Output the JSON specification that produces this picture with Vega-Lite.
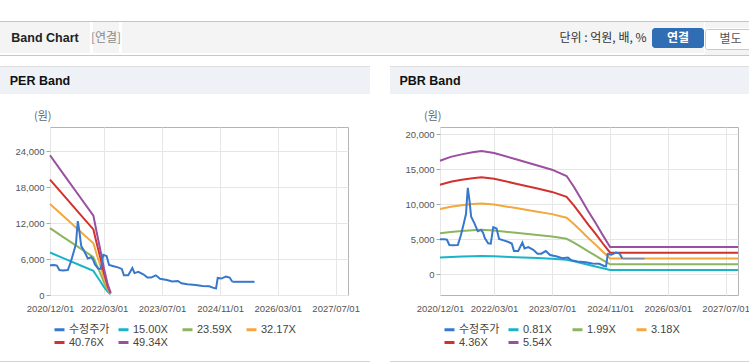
{
  "$schema": "https://vega.github.io/schema/vega-lite/v6.json",
  "background": "white",
  "padding": {"left": 0, "top": 21, "right": 0, "bottom": 0},
  "spacing": 10,
  "config": {
    "view": {"stroke": null},
    "point": {"size": 0, "opacity": 0},
    "text": {"font": "Liberation Sans, Noto Sans CJK KR"},
    "title": {"font": "Noto Sans CJK KR"}
  },
  "datasets": {
    "price": [
      {"d": "2020-12-01", "s": "수정주가", "v": 4950},
      {"d": "2021-01-05", "s": "수정주가", "v": 4980},
      {"d": "2021-01-28", "s": "수정주가", "v": 4900},
      {"d": "2021-02-18", "s": "수정주가", "v": 4150},
      {"d": "2021-03-20", "s": "수정주가", "v": 4100},
      {"d": "2021-04-30", "s": "수정주가", "v": 4150},
      {"d": "2021-05-25", "s": "수정주가", "v": 5500},
      {"d": "2021-06-20", "s": "수정주가", "v": 7300},
      {"d": "2021-07-08", "s": "수정주가", "v": 8600},
      {"d": "2021-07-16", "s": "수정주가", "v": 10700},
      {"d": "2021-07-23", "s": "수정주가", "v": 12300},
      {"d": "2021-08-06", "s": "수정주가", "v": 10500},
      {"d": "2021-08-20", "s": "수정주가", "v": 8200},
      {"d": "2021-09-15", "s": "수정주가", "v": 7300},
      {"d": "2021-10-15", "s": "수정주가", "v": 6100},
      {"d": "2021-11-12", "s": "수정주가", "v": 6300},
      {"d": "2021-11-28", "s": "수정주가", "v": 5900},
      {"d": "2021-12-14", "s": "수정주가", "v": 5100},
      {"d": "2022-01-10", "s": "수정주가", "v": 4400},
      {"d": "2022-02-01", "s": "수정주가", "v": 4350},
      {"d": "2022-02-22", "s": "수정주가", "v": 6700},
      {"d": "2022-03-22", "s": "수정주가", "v": 6500},
      {"d": "2022-04-12", "s": "수정주가", "v": 5000},
      {"d": "2022-05-20", "s": "수정주가", "v": 4800},
      {"d": "2022-06-25", "s": "수정주가", "v": 4600},
      {"d": "2022-07-28", "s": "수정주가", "v": 4350},
      {"d": "2022-08-15", "s": "수정주가", "v": 3300},
      {"d": "2022-09-20", "s": "수정주가", "v": 3300},
      {"d": "2022-10-25", "s": "수정주가", "v": 4500},
      {"d": "2022-11-12", "s": "수정주가", "v": 3650},
      {"d": "2022-12-14", "s": "수정주가", "v": 3850},
      {"d": "2023-01-25", "s": "수정주가", "v": 3450},
      {"d": "2023-03-01", "s": "수정주가", "v": 2900},
      {"d": "2023-04-01", "s": "수정주가", "v": 2900},
      {"d": "2023-05-10", "s": "수정주가", "v": 3280},
      {"d": "2023-06-15", "s": "수정주가", "v": 2700},
      {"d": "2023-08-12", "s": "수정주가", "v": 2500},
      {"d": "2023-09-25", "s": "수정주가", "v": 2250},
      {"d": "2023-11-12", "s": "수정주가", "v": 2340},
      {"d": "2023-12-12", "s": "수정주가", "v": 1960},
      {"d": "2024-01-31", "s": "수정주가", "v": 1790},
      {"d": "2024-04-10", "s": "수정주가", "v": 1670},
      {"d": "2024-06-05", "s": "수정주가", "v": 1510},
      {"d": "2024-08-01", "s": "수정주가", "v": 1450},
      {"d": "2024-09-12", "s": "수정주가", "v": 1150},
      {"d": "2024-09-28", "s": "수정주가", "v": 1100},
      {"d": "2024-10-12", "s": "수정주가", "v": 2850},
      {"d": "2024-11-10", "s": "수정주가", "v": 2740},
      {"d": "2024-12-20", "s": "수정주가", "v": 3070},
      {"d": "2025-01-20", "s": "수정주가", "v": 2910},
      {"d": "2025-02-12", "s": "수정주가", "v": 2200}
    ],
    "tail": [
      {"d": "2025-02-12", "s": "수정주가", "v": 2200},
      {"d": "2025-08-18", "s": "수정주가", "v": 2200}
    ],
    "per": [
      {"d": "2020-12-01", "s": "15.00X", "v": 7080},
      {"d": "2021-04-01", "s": "15.00X", "v": 6060},
      {"d": "2021-08-01", "s": "15.00X", "v": 5040},
      {"d": "2021-12-01", "s": "15.00X", "v": 4020},
      {"d": "2022-01-01", "s": "15.00X", "v": 3075},
      {"d": "2022-02-01", "s": "15.00X", "v": 2175},
      {"d": "2022-03-01", "s": "15.00X", "v": 1320},
      {"d": "2022-04-01", "s": "15.00X", "v": 525},
      {"d": "2022-04-25", "s": "15.00X", "v": 120},
      {"d": "2020-12-01", "s": "23.59X", "v": 11134},
      {"d": "2021-04-01", "s": "23.59X", "v": 9530},
      {"d": "2021-08-01", "s": "23.59X", "v": 7926},
      {"d": "2021-12-01", "s": "23.59X", "v": 6322},
      {"d": "2022-01-01", "s": "23.59X", "v": 4836},
      {"d": "2022-02-01", "s": "23.59X", "v": 3421},
      {"d": "2022-03-01", "s": "23.59X", "v": 2076},
      {"d": "2022-04-01", "s": "23.59X", "v": 826},
      {"d": "2022-04-25", "s": "23.59X", "v": 189},
      {"d": "2020-12-01", "s": "32.17X", "v": 15184},
      {"d": "2021-04-01", "s": "32.17X", "v": 12997},
      {"d": "2021-08-01", "s": "32.17X", "v": 10809},
      {"d": "2021-12-01", "s": "32.17X", "v": 8622},
      {"d": "2022-01-01", "s": "32.17X", "v": 6595},
      {"d": "2022-02-01", "s": "32.17X", "v": 4665},
      {"d": "2022-03-01", "s": "32.17X", "v": 2831},
      {"d": "2022-04-01", "s": "32.17X", "v": 1126},
      {"d": "2022-04-25", "s": "32.17X", "v": 257},
      {"d": "2020-12-01", "s": "40.76X", "v": 19239},
      {"d": "2021-04-01", "s": "40.76X", "v": 16467},
      {"d": "2021-08-01", "s": "40.76X", "v": 13695},
      {"d": "2021-12-01", "s": "40.76X", "v": 10924},
      {"d": "2022-01-01", "s": "40.76X", "v": 8356},
      {"d": "2022-02-01", "s": "40.76X", "v": 5910},
      {"d": "2022-03-01", "s": "40.76X", "v": 3587},
      {"d": "2022-04-01", "s": "40.76X", "v": 1427},
      {"d": "2022-04-25", "s": "40.76X", "v": 326},
      {"d": "2020-12-01", "s": "49.34X", "v": 23288},
      {"d": "2021-04-01", "s": "49.34X", "v": 19933},
      {"d": "2021-08-01", "s": "49.34X", "v": 16578},
      {"d": "2021-12-01", "s": "49.34X", "v": 13223},
      {"d": "2022-01-01", "s": "49.34X", "v": 10115},
      {"d": "2022-02-01", "s": "49.34X", "v": 7154},
      {"d": "2022-03-01", "s": "49.34X", "v": 4342},
      {"d": "2022-04-01", "s": "49.34X", "v": 1727},
      {"d": "2022-04-25", "s": "49.34X", "v": 395}
    ],
    "pbr": [
      {"d": "2020-12-01", "s": "0.81X", "v": 2367},
      {"d": "2021-03-01", "s": "0.81X", "v": 2446},
      {"d": "2021-06-01", "s": "0.81X", "v": 2499},
      {"d": "2021-09-01", "s": "0.81X", "v": 2543},
      {"d": "2021-11-15", "s": "0.81X", "v": 2569},
      {"d": "2022-03-01", "s": "0.81X", "v": 2527},
      {"d": "2022-09-01", "s": "0.81X", "v": 2398},
      {"d": "2023-03-01", "s": "0.81X", "v": 2268},
      {"d": "2023-07-01", "s": "0.81X", "v": 2179},
      {"d": "2023-11-01", "s": "0.81X", "v": 2047},
      {"d": "2024-01-01", "s": "0.81X", "v": 1823},
      {"d": "2024-03-01", "s": "0.81X", "v": 1571},
      {"d": "2024-05-01", "s": "0.81X", "v": 1312},
      {"d": "2024-07-01", "s": "0.81X", "v": 1069},
      {"d": "2024-09-01", "s": "0.81X", "v": 810},
      {"d": "2024-11-01", "s": "0.81X", "v": 565},
      {"d": "2027-10-13", "s": "0.81X", "v": 565},
      {"d": "2020-12-01", "s": "1.99X", "v": 5815},
      {"d": "2021-03-01", "s": "1.99X", "v": 6010},
      {"d": "2021-06-01", "s": "1.99X", "v": 6139},
      {"d": "2021-09-01", "s": "1.99X", "v": 6249},
      {"d": "2021-11-15", "s": "1.99X", "v": 6310},
      {"d": "2022-03-01", "s": "1.99X", "v": 6209},
      {"d": "2022-09-01", "s": "1.99X", "v": 5890},
      {"d": "2023-03-01", "s": "1.99X", "v": 5572},
      {"d": "2023-07-01", "s": "1.99X", "v": 5353},
      {"d": "2023-11-01", "s": "1.99X", "v": 5029},
      {"d": "2024-01-01", "s": "1.99X", "v": 4478},
      {"d": "2024-03-01", "s": "1.99X", "v": 3861},
      {"d": "2024-05-01", "s": "1.99X", "v": 3224},
      {"d": "2024-07-01", "s": "1.99X", "v": 2627},
      {"d": "2024-09-01", "s": "1.99X", "v": 1990},
      {"d": "2024-11-01", "s": "1.99X", "v": 1387},
      {"d": "2027-10-13", "s": "1.99X", "v": 1387},
      {"d": "2020-12-01", "s": "3.18X", "v": 9292},
      {"d": "2021-03-01", "s": "3.18X", "v": 9604},
      {"d": "2021-06-01", "s": "3.18X", "v": 9810},
      {"d": "2021-09-01", "s": "3.18X", "v": 9985},
      {"d": "2021-11-15", "s": "3.18X", "v": 10084},
      {"d": "2022-03-01", "s": "3.18X", "v": 9922},
      {"d": "2022-09-01", "s": "3.18X", "v": 9413},
      {"d": "2023-03-01", "s": "3.18X", "v": 8904},
      {"d": "2023-07-01", "s": "3.18X", "v": 8554},
      {"d": "2023-11-01", "s": "3.18X", "v": 8036},
      {"d": "2024-01-01", "s": "3.18X", "v": 7155},
      {"d": "2024-03-01", "s": "3.18X", "v": 6169},
      {"d": "2024-05-01", "s": "3.18X", "v": 5152},
      {"d": "2024-07-01", "s": "3.18X", "v": 4198},
      {"d": "2024-09-01", "s": "3.18X", "v": 3180},
      {"d": "2024-11-01", "s": "3.18X", "v": 2216},
      {"d": "2027-10-13", "s": "3.18X", "v": 2216},
      {"d": "2020-12-01", "s": "4.36X", "v": 12740},
      {"d": "2021-03-01", "s": "4.36X", "v": 13167},
      {"d": "2021-06-01", "s": "4.36X", "v": 13451},
      {"d": "2021-09-01", "s": "4.36X", "v": 13690},
      {"d": "2021-11-15", "s": "4.36X", "v": 13826},
      {"d": "2022-03-01", "s": "4.36X", "v": 13603},
      {"d": "2022-09-01", "s": "4.36X", "v": 12906},
      {"d": "2023-03-01", "s": "4.36X", "v": 12208},
      {"d": "2023-07-01", "s": "4.36X", "v": 11728},
      {"d": "2023-11-01", "s": "4.36X", "v": 11018},
      {"d": "2024-01-01", "s": "4.36X", "v": 9810},
      {"d": "2024-03-01", "s": "4.36X", "v": 8458},
      {"d": "2024-05-01", "s": "4.36X", "v": 7063},
      {"d": "2024-07-01", "s": "4.36X", "v": 5755},
      {"d": "2024-09-01", "s": "4.36X", "v": 4360},
      {"d": "2024-11-01", "s": "4.36X", "v": 3039},
      {"d": "2027-10-13", "s": "4.36X", "v": 3039},
      {"d": "2020-12-01", "s": "5.54X", "v": 16188},
      {"d": "2021-03-01", "s": "5.54X", "v": 16731},
      {"d": "2021-06-01", "s": "5.54X", "v": 17091},
      {"d": "2021-09-01", "s": "5.54X", "v": 17396},
      {"d": "2021-11-15", "s": "5.54X", "v": 17567},
      {"d": "2022-03-01", "s": "5.54X", "v": 17285},
      {"d": "2022-09-01", "s": "5.54X", "v": 16398},
      {"d": "2023-03-01", "s": "5.54X", "v": 15512},
      {"d": "2023-07-01", "s": "5.54X", "v": 14903},
      {"d": "2023-11-01", "s": "5.54X", "v": 14000},
      {"d": "2024-01-01", "s": "5.54X", "v": 12465},
      {"d": "2024-03-01", "s": "5.54X", "v": 10748},
      {"d": "2024-05-01", "s": "5.54X", "v": 8975},
      {"d": "2024-07-01", "s": "5.54X", "v": 7313},
      {"d": "2024-09-01", "s": "5.54X", "v": 5540},
      {"d": "2024-11-01", "s": "5.54X", "v": 3861},
      {"d": "2027-10-13", "s": "5.54X", "v": 3861}
    ]
  },
  "vconcat": [
    {
      "spacing": 0,
      "vconcat": [
        {"width": 749, "height": 1, "view": {"fill": "#c4c4c4", "stroke": null}, "data": {"values": [{}]}, "mark": {"type": "point", "size": 0, "opacity": 0}, "encoding": {}},
        {
          "spacing": 0,
          "hconcat": [
            {"width": 90, "height": 31, "view": {"fill": "#f4f4f4", "stroke": null}, "data": {"values": [{"t": "Band Chart"}]}, "mark": {"type": "text", "fontSize": 12.5, "fontWeight": "bold", "color": "#222222", "font": "Liberation Sans"}, "encoding": {"text": {"field": "t"}}},
            {"width": 26, "height": 31, "view": {"fill": "#f4f4f4", "stroke": null}, "data": {"values": [{"t": "[연결]"}]}, "mark": {"type": "text", "fontSize": 12, "color": "#8a8a8a", "font": "Noto Sans CJK KR"}, "encoding": {"text": {"field": "t"}}},
            {"width": 432, "height": 31, "view": {"fill": "#f4f4f4", "stroke": null}, "data": {"values": [{}]}, "mark": {"type": "point", "size": 0, "opacity": 0}, "encoding": {}},
            {"width": 98, "height": 31, "view": {"fill": "#f4f4f4", "stroke": null}, "data": {"values": [{"t": "단위 : 억원, 배, %"}]}, "mark": {"type": "text", "fontSize": 12, "color": "#333333", "font": "Noto Sans CJK KR"}, "encoding": {"text": {"field": "t"}}},
            {
              "spacing": 0,
              "vconcat": [
                {"width": 52, "height": 6, "view": {"fill": "#f4f4f4", "stroke": null}, "data": {"values": [{}]}, "mark": {"type": "point", "size": 0, "opacity": 0}, "encoding": {}},
                {"width": 52, "height": 20, "view": {"fill": "#2f6db5", "stroke": null, "cornerRadius": 3}, "data": {"values": [{"t": "연결"}]}, "mark": {"type": "text", "fontSize": 12, "fontWeight": "bold", "color": "white", "font": "Noto Sans CJK KR"}, "encoding": {"text": {"field": "t"}}},
                {"width": 52, "height": 5, "view": {"fill": "#f4f4f4", "stroke": null}, "data": {"values": [{}]}, "mark": {"type": "point", "size": 0, "opacity": 0}, "encoding": {}}
              ]
            },
            {
              "spacing": 0,
              "vconcat": [
                {"width": 51, "height": 6, "view": {"fill": "#f4f4f4", "stroke": null}, "data": {"values": [{}]}, "mark": {"type": "point", "size": 0, "opacity": 0}, "encoding": {}},
                {"width": 51, "height": 20, "view": {"fill": "white", "stroke": "#c8c8c8", "cornerRadius": 2}, "data": {"values": [{"t": "별도"}]}, "mark": {"type": "text", "fontSize": 12, "color": "#555555", "font": "Noto Sans CJK KR"}, "encoding": {"text": {"field": "t"}}},
                {"width": 51, "height": 5, "view": {"fill": "#f4f4f4", "stroke": null}, "data": {"values": [{}]}, "mark": {"type": "point", "size": 0, "opacity": 0}, "encoding": {}}
              ]
            }
          ]
        },
        {"width": 749, "height": 1, "view": {"fill": "#c8c8c8", "stroke": null}, "data": {"values": [{}]}, "mark": {"type": "point", "size": 0, "opacity": 0}, "encoding": {}}
      ]
    },
    {
      "spacing": 20,
      "resolve": {"scale": {"color": "independent"}, "legend": {"color": "independent"}},
      "hconcat": [
        {
          "spacing": 11,
          "vconcat": [
            {
              "spacing": 16,
              "vconcat": [
                {
                  "spacing": 0,
                  "vconcat": [
                    {"width": 370, "height": 1, "view": {"fill": "#dddddd", "stroke": null}, "data": {"values": [{}]}, "mark": {"type": "point", "size": 0, "opacity": 0}, "encoding": {}},
                    {
                      "spacing": 0,
                      "hconcat": [
                        {"width": 80, "height": 27, "view": {"fill": "#eef2f7", "stroke": null}, "data": {"values": [{"t": "PER Band"}]}, "mark": {"type": "text", "fontSize": 12.5, "fontWeight": "bold", "color": "#111111", "font": "Liberation Sans"}, "encoding": {"text": {"field": "t"}}},
                        {"width": 290, "height": 27, "view": {"fill": "#eef2f7", "stroke": null}, "data": {"values": [{}]}, "mark": {"type": "point", "size": 0, "opacity": 0}, "encoding": {}}
                      ]
                    }
                  ]
                },
                {
                  "spacing": 0,
                  "resolve": {"legend": {"color": "independent"}},
                  "hconcat": [
                    {"width": 14, "height": 168, "view": {"fill": "transparent", "stroke": null}, "data": {"values": [{}]}, "mark": {"type": "point", "size": 0, "opacity": 0}, "encoding": {}},
                    {
                      "width": 298,
                      "height": 168,
                      "view": {"stroke": "#b4b4b4", "fill": "white"},
                      "title": {"text": "(원)", "anchor": "start", "frame": "group", "dx": -16, "offset": 5, "fontSize": 11, "fontWeight": "normal", "color": "#666666", "font": "Noto Sans CJK KR"},
                      "encoding": {
                        "x": {"field": "d", "type": "temporal",
                          "scale": {"type": "utc", "domain": [{"year": 2020, "month": 12, "date": 1, "utc": true}, {"year": 2027, "month": 10, "date": 13, "utc": true}]},
                          "axis": {"title": null, "values": [{"year": 2020, "month": 12, "date": 1, "utc": true}, {"year": 2022, "month": 3, "date": 1, "utc": true}, {"year": 2023, "month": 7, "date": 1, "utc": true}, {"year": 2024, "month": 11, "date": 1, "utc": true}, {"year": 2026, "month": 3, "date": 1, "utc": true}, {"year": 2027, "month": 7, "date": 1, "utc": true}],
                            "format": "%Y/%m/%d", "labelFont": "Liberation Sans", "labelFontSize": 9.5, "labelColor": "#555555", "ticks": false, "tickSize": 0, "labelPadding": 8, "grid": true, "gridColor": "#e6e6e6", "domain": false, "labelOverlap": false, "labelFlush": false}},
                        "y": {"field": "v", "type": "quantitative",
                          "scale": {"domain": [0, 28000], "nice": false, "zero": false},
                          "axis": {"title": null, "values": [0, 6000, 12000, 18000, 24000], "format": ",.0f", "labelFont": "Liberation Sans", "labelFontSize": 9.5, "labelColor": "#555555", "tickSize": 4, "tickColor": "#aaaaaa", "labelPadding": 2, "grid": true, "gridColor": "#e6e6e6", "domain": false}},
                        "color": {"field": "s", "type": "nominal",
                          "scale": {"domain": ["수정주가", "15.00X", "23.59X", "32.17X", "40.76X", "49.34X"], "range": ["#3778cc", "#19b4c8", "#8cb560", "#f4a73c", "#d2322d", "#9b4f9f"]},
                          "legend": {"orient": "none", "legendX": 3, "legendY": 196, "direction": "horizontal", "columns": 4, "title": null, "symbolType": "stroke", "symbolStrokeWidth": 3, "symbolSize": 100, "labelFontSize": 11, "labelFont": "Liberation Sans, Noto Sans CJK KR", "labelColor": "#444444", "gridAlign": "all", "columnPadding": 2, "rowPadding": 0, "labelOffset": 3, "padding": 0}}
                      },
                      "layer": [
                        {"data": {"name": "per"}, "mark": {"type": "line", "strokeWidth": 2}},
                        {"data": {"name": "price"}, "mark": {"type": "line", "strokeWidth": 2}},
                        {"data": {"name": "tail"}, "mark": {"type": "line", "strokeWidth": 2}}
                      ]
                    }
                  ]
                }
              ]
            },
            {"width": 370, "height": 1, "view": {"fill": "#d4d4d4", "stroke": null}, "data": {"values": [{}]}, "mark": {"type": "point", "size": 0, "opacity": 0}, "encoding": {}}
          ]
        },
        {
          "spacing": 11,
          "vconcat": [
            {
              "spacing": 16,
              "vconcat": [
                {
                  "spacing": 0,
                  "vconcat": [
                    {"width": 359, "height": 1, "view": {"fill": "#dddddd", "stroke": null}, "data": {"values": [{}]}, "mark": {"type": "point", "size": 0, "opacity": 0}, "encoding": {}},
                    {
                      "spacing": 0,
                      "hconcat": [
                        {"width": 80, "height": 27, "view": {"fill": "#eef2f7", "stroke": null}, "data": {"values": [{"t": "PBR Band"}]}, "mark": {"type": "text", "fontSize": 12.5, "fontWeight": "bold", "color": "#111111", "font": "Liberation Sans"}, "encoding": {"text": {"field": "t"}}},
                        {"width": 279, "height": 27, "view": {"fill": "#eef2f7", "stroke": null}, "data": {"values": [{}]}, "mark": {"type": "point", "size": 0, "opacity": 0}, "encoding": {}}
                      ]
                    }
                  ]
                },
                {
                  "spacing": 0,
                  "resolve": {"legend": {"color": "independent"}},
                  "hconcat": [
                    {"width": 14, "height": 168, "view": {"fill": "transparent", "stroke": null}, "data": {"values": [{}]}, "mark": {"type": "point", "size": 0, "opacity": 0}, "encoding": {}},
                    {
                      "width": 298,
                      "height": 168,
                      "view": {"stroke": "#b4b4b4", "fill": "white"},
                      "title": {"text": "(원)", "anchor": "start", "frame": "group", "dx": -16, "offset": 5, "fontSize": 11, "fontWeight": "normal", "color": "#666666", "font": "Noto Sans CJK KR"},
                      "encoding": {
                        "x": {"field": "d", "type": "temporal",
                          "scale": {"type": "utc", "domain": [{"year": 2020, "month": 12, "date": 1, "utc": true}, {"year": 2027, "month": 10, "date": 13, "utc": true}]},
                          "axis": {"title": null, "values": [{"year": 2020, "month": 12, "date": 1, "utc": true}, {"year": 2022, "month": 3, "date": 1, "utc": true}, {"year": 2023, "month": 7, "date": 1, "utc": true}, {"year": 2024, "month": 11, "date": 1, "utc": true}, {"year": 2026, "month": 3, "date": 1, "utc": true}, {"year": 2027, "month": 7, "date": 1, "utc": true}],
                            "format": "%Y/%m/%d", "labelFont": "Liberation Sans", "labelFontSize": 9.5, "labelColor": "#555555", "ticks": false, "tickSize": 0, "labelPadding": 8, "grid": true, "gridColor": "#e6e6e6", "domain": false, "labelOverlap": false, "labelFlush": false}},
                        "y": {"field": "v", "type": "quantitative",
                          "scale": {"domain": [-3000, 21000], "nice": false, "zero": false},
                          "axis": {"title": null, "values": [0, 5000, 10000, 15000, 20000], "format": ",.0f", "labelFont": "Liberation Sans", "labelFontSize": 9.5, "labelColor": "#555555", "tickSize": 4, "tickColor": "#aaaaaa", "labelPadding": 2, "grid": true, "gridColor": "#e6e6e6", "domain": false}},
                        "color": {"field": "s", "type": "nominal",
                          "scale": {"domain": ["수정주가", "0.81X", "1.99X", "3.18X", "4.36X", "5.54X"], "range": ["#3778cc", "#19b4c8", "#8cb560", "#f4a73c", "#d2322d", "#9b4f9f"]},
                          "legend": {"orient": "none", "legendX": 3, "legendY": 196, "direction": "horizontal", "columns": 4, "title": null, "symbolType": "stroke", "symbolStrokeWidth": 3, "symbolSize": 100, "labelFontSize": 11, "labelFont": "Liberation Sans, Noto Sans CJK KR", "labelColor": "#444444", "gridAlign": "all", "columnPadding": 2, "rowPadding": 0, "labelOffset": 3, "padding": 0}}
                      },
                      "layer": [
                        {"data": {"name": "pbr"}, "mark": {"type": "line", "strokeWidth": 2}},
                        {"data": {"name": "price"}, "mark": {"type": "line", "strokeWidth": 2}},
                        {"data": {"name": "tail"}, "mark": {"type": "line", "strokeWidth": 1.5}, "encoding": {"color": {"value": "#7d8a97"}}}
                      ]
                    }
                  ]
                }
              ]
            },
            {"width": 359, "height": 1, "view": {"fill": "#d4d4d4", "stroke": null}, "data": {"values": [{}]}, "mark": {"type": "point", "size": 0, "opacity": 0}, "encoding": {}}
          ]
        }
      ]
    }
  ]
}
